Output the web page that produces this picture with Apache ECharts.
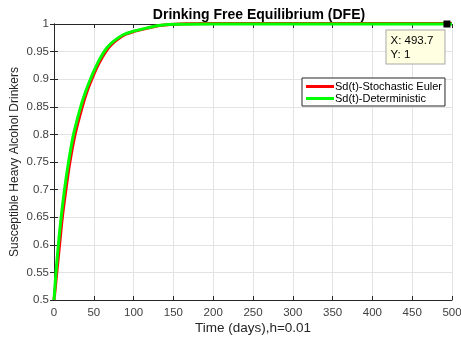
<!DOCTYPE html>
<html>
<head>
<meta charset="utf-8">
<script src="https://cdn.jsdelivr.net/npm/echarts@6/dist/echarts.min.js"></script>
<style>
  html, body { margin: 0; padding: 0; background: #ffffff; }
  #chart { width: 461px; height: 338px; }
</style>
</head>
<body>
<div id="chart"></div>
<script>
// Susceptible heavy drinkers Sd(t) at the drinking-free equilibrium
const detTime  = [0, 2.5, 5.5, 9, 13.2, 18.3, 24.5, 33.5, 40.3, 45.7, 51.8, 58, 66.5, 75, 87.5, 100, 117, 134, 155, 200, 300, 400, 500];
const detValue = [0.5, 0.55, 0.6, 0.65, 0.7, 0.75, 0.8, 0.85, 0.88, 0.9, 0.92, 0.938, 0.957, 0.969, 0.981, 0.987, 0.993, 0.9976, 0.9995, 1, 1, 1, 1];

const eulerTime  = [0, 1.5, 3.5, 7, 10.5, 15, 20, 26.5, 35.5, 42, 47.5, 53.5, 60, 68.5, 77, 89.5, 102, 119, 136, 158, 200, 300, 400, 500];
const eulerValue = [0.5, 0.52, 0.55, 0.6, 0.65, 0.7, 0.75, 0.8, 0.85, 0.88, 0.9, 0.92, 0.938, 0.957, 0.969, 0.981, 0.987, 0.993, 0.9976, 1.0, 1.0008, 1.0008, 1.0008, 1.0008];

const xTicks = { min: 0, max: 500, interval: 50 };
const yTicks = { min: 0.5, max: 1, interval: 0.05 };

// data tip on the deterministic curve
const tipX = 493.7;
const tipY = 1;

const seriesNames = ['Sd(t)-Stochastic Euler', 'Sd(t)-Deterministic'];

const pairs = (xs, ys) => xs.map((x, i) => [x, ys[i]]);

const font = 'Liberation Sans, Arial, Helvetica, sans-serif';
const ink = '#262626';

const chart = echarts.init(document.getElementById('chart'), null, { renderer: 'canvas' });

const baseAxis = {
  axisLine: { show: true, lineStyle: { color: ink, width: 1 } },
  axisTick: { show: true, inside: true, length: 4, lineStyle: { color: ink } },
  splitLine: { show: false },
  axisLabel: { show: false }
};

chart.setOption({
  animation: false,
  backgroundColor: '#ffffff',
  title: {
    text: 'Drinking Free Equilibrium (DFE)',
    left: 254,
    top: 3,
    textAlign: 'center',
    textStyle: { fontFamily: font, fontSize: 14, fontWeight: 'bold', color: '#000000' }
  },
  legend: {
    data: seriesNames,
    orient: 'vertical',
    left: 302,
    top: 78,
    backgroundColor: '#ffffff',
    borderColor: ink,
    borderWidth: 1,
    borderRadius: 0,
    padding: [3, 3, 2, 4],
    itemGap: 1,
    itemWidth: 28,
    itemHeight: 11,
    icon: 'path://M0,4 L28,4 L28,7 L0,7 Z',
    textStyle: { fontFamily: font, fontSize: 11, color: '#000000', padding: [0, 0, 0, -4] }
  },
  grid: { left: 54, right: 9, top: 24, bottom: 38, outerBoundsMode: 'none' },
  xAxis: [
    Object.assign({}, baseAxis, {
      type: 'value', position: 'bottom',
      min: xTicks.min, max: xTicks.max, interval: xTicks.interval,
      name: 'Time (days),h=0.01',
      nameLocation: 'middle',
      nameGap: 21,
      nameMoveOverlap: false,
      nameTextStyle: { fontFamily: font, fontSize: 13.5, color: ink },
      axisLabel: { show: true, fontFamily: font, fontSize: 11.5, color: '#404040', margin: 7 },
      splitLine: { show: true, lineStyle: { color: '#e3e3e3', width: 1 } }
    }),
    Object.assign({}, baseAxis, {
      type: 'value', position: 'top',
      min: xTicks.min, max: xTicks.max, interval: xTicks.interval
    })
  ],
  yAxis: [
    Object.assign({}, baseAxis, {
      type: 'value', position: 'left',
      min: yTicks.min, max: yTicks.max, interval: yTicks.interval,
      name: 'Susceptible Heavy Alcohol Drinkers',
      nameLocation: 'middle',
      nameGap: 33,
      nameMoveOverlap: false,
      nameTextStyle: { fontFamily: font, fontSize: 12, color: ink },
      axisLabel: { show: true, fontFamily: font, fontSize: 11.5, color: '#404040', margin: 5 },
      splitLine: { show: true, lineStyle: { color: '#e3e3e3', width: 1 } }
    }),
    Object.assign({}, baseAxis, {
      type: 'value', position: 'right',
      min: yTicks.min, max: yTicks.max, interval: yTicks.interval
    })
  ],
  series: [
    {
      name: seriesNames[0],
      type: 'line',
      xAxisIndex: 0, yAxisIndex: 0,
      data: pairs(eulerTime, eulerValue),
      smooth: 0.35,
      showSymbol: false,
      clip: false,
      color: '#ff0000',
      lineStyle: { color: '#ff0000', width: 3 },
      z: 2
    },
    {
      name: seriesNames[1],
      type: 'line',
      xAxisIndex: 0, yAxisIndex: 0,
      data: pairs(detTime, detValue),
      smooth: 0.35,
      showSymbol: false,
      clip: false,
      color: '#00ff00',
      lineStyle: { color: '#00ff00', width: 3 },
      z: 3,
      markPoint: {
        symbol: 'rect',
        symbolSize: 7,
        itemStyle: { color: '#000000' },
        data: [{ coord: [tipX, tipY] }],
        label: {
          show: true,
          formatter: 'X: ' + tipX + '\nY: ' + tipY,
          position: [-57, 10],
          fontFamily: font,
          fontSize: 11.5,
          lineHeight: 14,
          color: '#000000',
          backgroundColor: '#ffffe1',
          borderColor: '#a8a8a8',
          borderWidth: 1,
          padding: [3, 6, 2, 4],
          width: 48,
          align: 'left',
          verticalAlign: 'top'
        },
        z: 10
      }
    }
  ]
});
</script>
</body>
</html>
